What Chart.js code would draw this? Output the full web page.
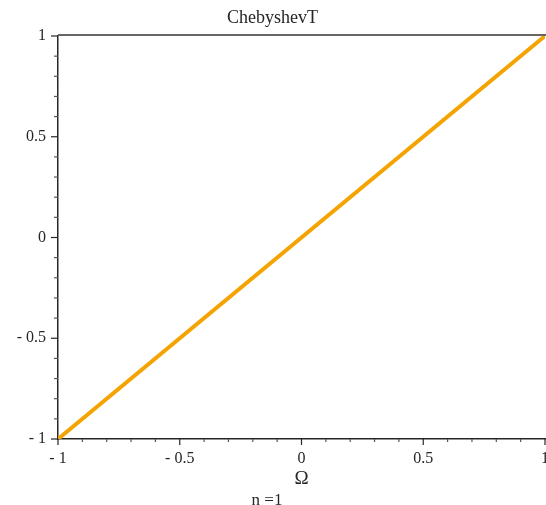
<!DOCTYPE html>
<html>
<head>
<meta charset="utf-8">
<script src="https://cdn.jsdelivr.net/npm/chart.js@4"></script>
<style>
  html, body { margin: 0; padding: 0; background: #ffffff; }
  #plot { display: block; }
</style>
</head>
<body>
<canvas id="plot" width="546" height="505"></canvas>
<script>
// Datos: T1(Ω) = Ω
const omegaVals = [-1, -0.5, 0, 0.5, 1];
const chebVals  = [-1, -0.5, 0, 0.5, 1];
const majorStep = 0.5;
const minorStep = 0.1;

const SERIF = '"Liberation Serif", "Times New Roman", serif';
const INK = '#262626';

const isMajor = v => Math.abs(v / majorStep - Math.round(v / majorStep)) < 1e-6;
// Maple deja un hueco después del signo menos
const fmtTick = v => {
  if (!isMajor(v)) return '';
  const r = Math.round(v * 10) / 10;
  return r < 0 ? '- ' + String(-r) : String(r);
};

// Marcas de los ejes (largas en 0.5, cortas en 0.1) y la línea de arriba
const ticksPlugin = {
  id: 'mapleTicks',
  afterDraw(chart) {
    const { ctx, chartArea, scales } = chart;
    ctx.save();
    ctx.lineWidth = 1.2;
    scales.x.ticks.forEach(t => {
      const px = scales.x.getPixelForValue(t.value);
      const len = isMajor(t.value) ? 6 : 3;
      ctx.strokeStyle = isMajor(t.value) ? INK : '#555';
      ctx.beginPath();
      ctx.moveTo(px, chartArea.bottom);
      ctx.lineTo(px, chartArea.bottom + len);
      ctx.stroke();
    });
    scales.y.ticks.forEach(t => {
      const py = scales.y.getPixelForValue(t.value);
      const len = isMajor(t.value) ? 7 : 4;
      ctx.strokeStyle = isMajor(t.value) ? INK : '#555';
      ctx.beginPath();
      ctx.moveTo(chartArea.left, py);
      ctx.lineTo(chartArea.left - len, py);
      ctx.stroke();
    });
    // borde superior gris
    ctx.strokeStyle = '#666';
    ctx.lineWidth = 2;
    ctx.beginPath();
    ctx.moveTo(chartArea.left, chartArea.top - 1);
    ctx.lineTo(chart.width, chartArea.top - 1);
    ctx.stroke();
    // leyenda de abajo
    ctx.fillStyle = INK;
    ctx.font = '17px ' + SERIF;
    ctx.textAlign = 'center';
    ctx.textBaseline = 'alphabetic';
    ctx.fillText('n =1', 267, 505);
    ctx.restore();
  }
};

new Chart(document.getElementById('plot'), {
  type: 'line',
  data: {
    labels: omegaVals,
    datasets: [{
      data: omegaVals.map((x, i) => ({ x: x, y: chebVals[i] })),
      borderColor: '#F4A300',
      borderWidth: 4,
      pointRadius: 0,
      tension: 0,
      fill: false
    }]
  },
  options: {
    responsive: false,
    animation: false,
    layout: { padding: { left: 0, right: 1, top: 0, bottom: 0 } },
    plugins: {
      legend: { display: false },
      tooltip: { enabled: false },
      title: {
        display: true,
        text: 'ChebyshevT',
        color: INK,
        font: { family: SERIF, size: 18, weight: 'normal' },
        padding: { top: 7, bottom: 7.4 }
      }
    },
    scales: {
      x: {
        type: 'linear',
        min: -1, max: 1,
        grid: { display: false, drawTicks: false },
        border: { display: true, color: INK, width: 1.5 },
        ticks: {
          stepSize: minorStep,
          autoSkip: false,
          maxRotation: 0,
          padding: 10,
          color: INK,
          font: { family: SERIF, size: 16 },
          callback: v => fmtTick(v)
        },
        title: {
          display: true,
          text: 'Ω',
          color: INK,
          font: { family: SERIF, size: 19 },
          padding: { top: 0, bottom: 14.6 }
        },
        afterFit(scale) {
          scale.height = 66;
          scale.paddingLeft = 0;
          scale.paddingRight = 0;
        }
      },
      y: {
        type: 'linear',
        min: -1, max: 1,
        grid: { display: false, drawTicks: false },
        border: { display: true, color: INK, width: 1.5 },
        ticks: {
          stepSize: minorStep,
          autoSkip: false,
          padding: 12,
          color: INK,
          font: { family: SERIF, size: 16 },
          callback: v => fmtTick(v)
        },
        afterFit(scale) {
          scale.width = 58;
          scale.paddingTop = 0;
          scale.paddingBottom = 0;
        }
      }
    }
  },
  plugins: [ticksPlugin]
});
</script>
</body>
</html>
